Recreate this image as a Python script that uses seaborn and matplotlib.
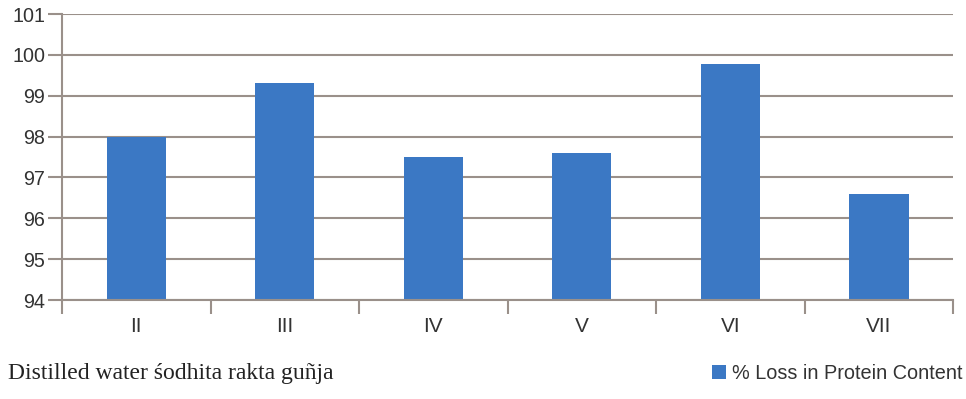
import numpy as np
import pandas as pd
import seaborn as sns
import matplotlib.pyplot as plt
from matplotlib.ticker import FixedLocator

# values
groups = ['II', 'III', 'IV', 'V', 'VI', 'VII']
loss = [98.0, 99.3, 97.5, 97.6, 99.78, 96.6]
series_name = '% Loss in Protein Content'
caption = 'Distilled water śodhita rakta guñja'
y_ticks = [94, 95, 96, 97, 98, 99, 100, 101]

bar_color = '#3b78c4'
grid_color = '#9a908a'
text_color = '#333333'

sns.set_theme(style='white')
plt.rcParams['font.family'] = ['Liberation Sans', 'DejaVu Sans']

df = pd.DataFrame({'group': groups, 'loss': loss})

fig = plt.figure(figsize=(9.66, 3.99), dpi=100)
ax = fig.add_axes([0.0642, 0.2481, 0.9224, 0.7168])

sns.barplot(data=df, x='group', y='loss', color=bar_color, width=0.4,
            saturation=1, ax=ax, label=series_name, edgecolor='none')

ax.set_ylim(94, 101)
ax.set_xlim(-0.5, len(groups) - 0.5)
ax.set_yticks(y_ticks)
ax.yaxis.grid(True, color=grid_color, linewidth=1.5)
ax.set_axisbelow(True)

for side in ['top', 'right']:
    ax.spines[side].set_visible(False)
for side in ['left', 'bottom']:
    ax.spines[side].set_color(grid_color)
    ax.spines[side].set_linewidth(1.5)

# category boundary ticks on the x axis
ax.xaxis.set_minor_locator(FixedLocator(np.arange(-0.5, len(groups), 1.0)))
ax.tick_params(axis='x', which='major', length=0, pad=12,
               labelsize=15, labelcolor=text_color)
ax.tick_params(axis='x', which='minor', length=10, width=1.5,
               color=grid_color, direction='out', bottom=True)
ax.tick_params(axis='y', length=10, width=1.5, color=grid_color,
               direction='out', left=True, labelsize=14.2,
               labelcolor=text_color, pad=2)
ax.set_xlabel('')
ax.set_ylabel('')
if ax.legend_:
    ax.legend_.remove()

handles, labels = ax.get_legend_handles_labels()
fig.legend(handles, labels, loc='center right', bbox_to_anchor=(1.015, 0.065),
           frameon=False, fontsize=14.3, handlelength=0.7, handleheight=0.7,
           handletextpad=0.3, labelcolor=text_color)

fig.text(0.008, 0.065, caption, ha='left', va='center', fontsize=17,
         family=['Liberation Serif', 'DejaVu Serif'], color='#222222')

fig.savefig('out.png', dpi=100, facecolor='white')
